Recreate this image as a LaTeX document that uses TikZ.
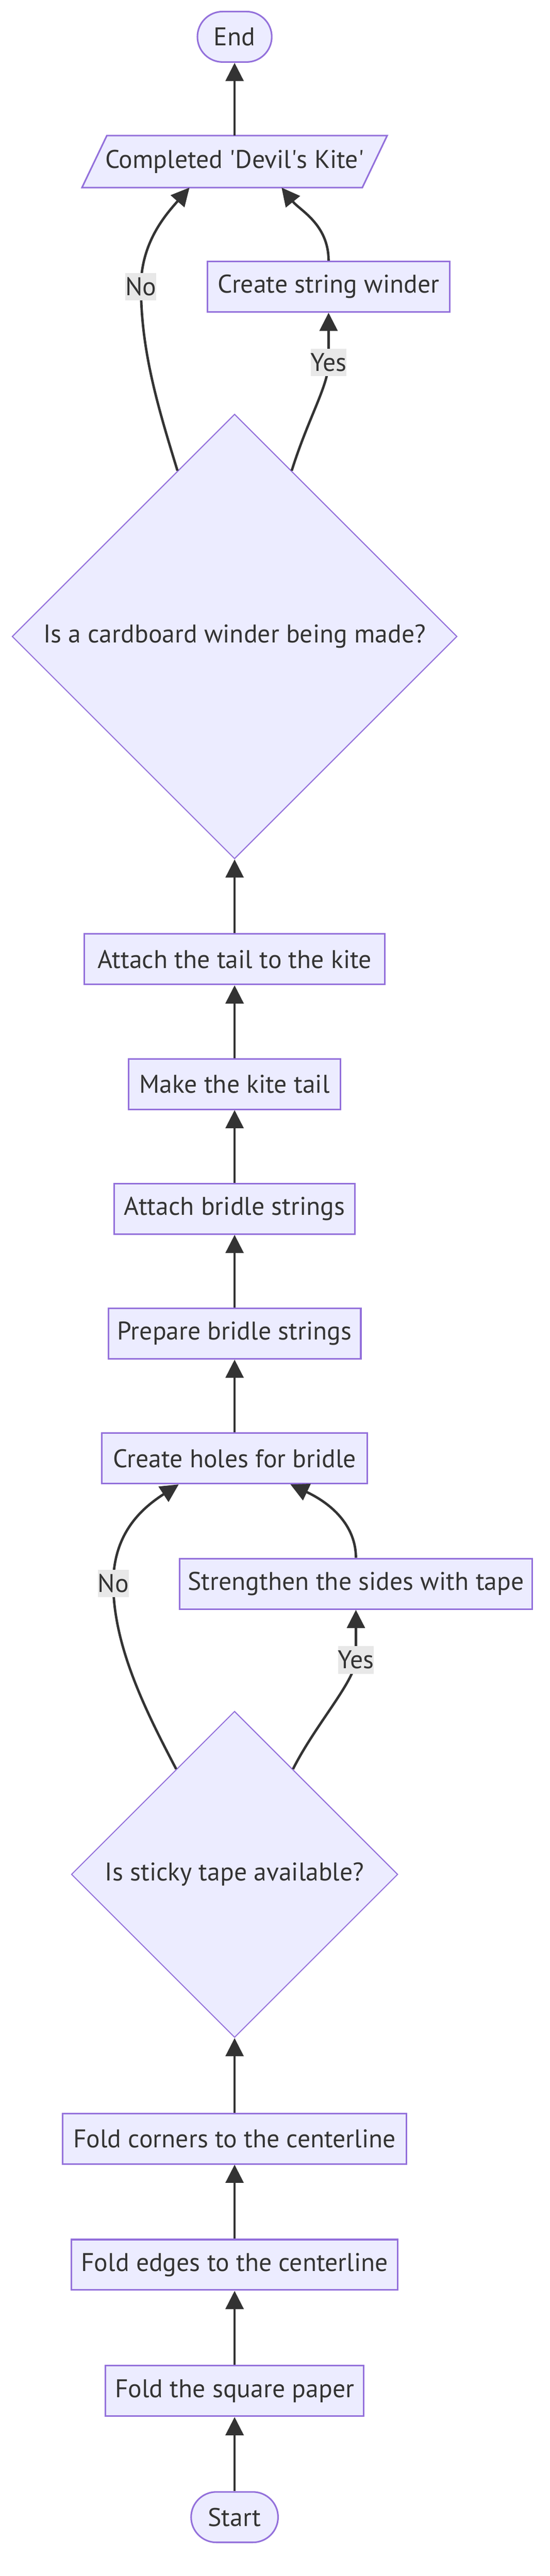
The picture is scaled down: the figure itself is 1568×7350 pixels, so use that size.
\documentclass[tikz,border=0pt]{standalone}
\usepackage{fontspec}
\setmainfont{PT Sans}
\usetikzlibrary{arrows.meta}
\usetikzlibrary{calc}
\usetikzlibrary{shapes.geometric}
\usetikzlibrary{backgrounds}

\definecolor{boxfill}{HTML}{ECECFF}
\definecolor{boxline}{HTML}{9370DB}
\definecolor{ink}{HTML}{333333}
\definecolor{labelbg}{HTML}{E8E8E8}
\newcommand{\boxfont}{\fontsize{7.3pt}{8.8pt}\selectfont}

\tikzset{
  stepbox/.style={rectangle, draw=boxline, fill=boxfill, line width=0.45pt,
    minimum height=14.4pt, inner sep=0pt, text=ink, font=\boxfont},
  terminal/.style={stepbox, rounded corners=7.2pt},
  decision/.style={diamond, aspect=1, draw=boxline, fill=boxfill, line width=0.3pt,
    inner sep=0pt, text=ink, font=\boxfont},
  flow/.style={draw=ink, line width=0.7pt, -{Triangle[length=5.2pt,width=5.1pt]}},
  answer/.style={fill=labelbg, text=ink, inner xsep=0pt, inner ysep=0pt,
    minimum height=7.9pt, font=\boxfont}
}

\begin{document}
\begin{tikzpicture}[x=0.1pt, y=-0.1pt]
        \newcommand{\cx}{669}
        \useasboundingbox (0,0) rectangle (1568,7350);

        \node[terminal, minimum width=21.2pt] (end) at (\cx,105) {End};
        \node[stepbox, draw=none, fill=none, minimum width=79.5pt] (done) at (\cx,461) {Completed \textquotesingle Devil\textquotesingle s Kite\textquotesingle};
        \node[stepbox, minimum width=69.2pt] (winder) at (937,818) {Create string winder};
        \node[decision, minimum width=126.9pt, minimum height=126.9pt] (cardq) at (\cx,1816) {Is a cardboard winder being made?};

        \node[stepbox, minimum width=85.6pt] (tailon) at (\cx,2737) {Attach the tail to the kite};
        \node[stepbox, minimum width=60.4pt] (tail) at (\cx,3093) {Make the kite tail};
        \node[stepbox, minimum width=68.6pt] (bridleon) at (\cx,3449) {Attach bridle strings};
        \node[stepbox, minimum width=72pt] (bridle) at (\cx,3805) {Prepare bridle strings};
        \node[stepbox, minimum width=75.7pt] (holes) at (\cx,4161) {Create holes for bridle};
        \node[stepbox, minimum width=100.6pt] (tape) at (1015,4519) {Strengthen the sides with tape};
        \node[decision, minimum width=93.1pt, minimum height=93.1pt] (tapeq) at (\cx,5348) {Is sticky tape available?};

        \node[stepbox, minimum width=98.1pt] (corners) at (\cx,6102) {Fold corners to the centerline};
        \node[stepbox, minimum width=93pt] (edges) at (\cx,6462) {Fold edges to the centerline};
        \node[stepbox, minimum width=73.6pt] (square) at (\cx,6822) {Fold the square paper};
        \node[terminal, minimum width=24.8pt] (start) at (\cx,7182) {Start};

        % parallelogram behind the output node
        \begin{scope}[on background layer]
            \filldraw[fill=boxfill, draw=boxline, line width=0.45pt]
                ($(done.south west)+(-35.5,0)$) -- ($(done.south east)+(-35.5,0)$)
                -- ($(done.north east)+(35.5,0)$) -- ($(done.north west)+(35.5,0)$) -- cycle;
        \end{scope}

        \draw[flow] (start) -- (square);
        \draw[flow] (square) -- (edges);
        \draw[flow] (edges) -- (corners);
        \draw[flow] (corners) -- (tapeq.south);

        \draw[flow] (tapeq.119) .. controls (420,4890) and (323,4700) .. (323,4518) node[answer] {No}
            .. controls (323,4370) and (410,4300) .. (holes.205);
        \draw[flow] (tapeq.61) .. controls (900,4920) and (1010,4800) .. (1015,4736) node[answer] {Yes} -- (tape);
        \draw[flow] (tape) .. controls (1015,4360) and (955,4295) .. (holes.335);

        \draw[flow] (holes) -- (bridle);
        \draw[flow] (bridle) -- (bridleon);
        \draw[flow] (bridleon) -- (tail);
        \draw[flow] (tail) -- (tailon);
        \draw[flow] (tailon) -- (cardq.south);

        \draw[flow] (cardq.109) .. controls (450,1160) and (402,1000) .. (402,818) node[answer] {No}
            .. controls (402,690) and (475,610) .. (done.210);
        \draw[flow] (cardq.71) .. controls (880,1190) and (937,1100) .. (937,1034) node[answer] {Yes} -- (winder);
        \draw[flow] (winder) .. controls (937,640) and (855,600) .. (done.331);
        \draw[flow] (done) -- (end);
    \end{tikzpicture}
\end{document}
